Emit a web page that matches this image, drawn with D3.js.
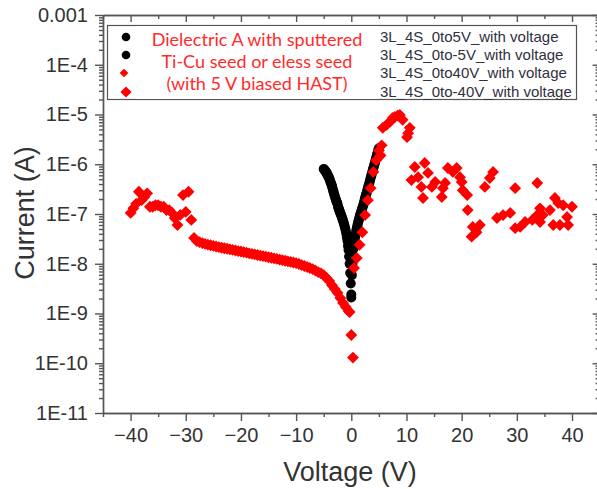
<!DOCTYPE html>
<html>
<head>
<meta charset="utf-8">
<script src="https://cdn.jsdelivr.net/npm/d3@7"></script>
<style>
  body { margin: 0; background: #fff; }
  text { font-family: "Liberation Sans", Arial, sans-serif; }
</style>
</head>
<body>
<svg id="chart" width="597" height="489"></svg>
<script>
// --- data ---
const seriesNames = ['3L_4S_0to5V_with voltage', '3L_4S_0to-5V_with voltage',
  '3L_4S_0to40V_with voltage', '3L_4S_0to-40V_with voltage'];
const noteLines = ['Dielectric A with sputtered', 'Ti-Cu seed or eless seed', '(with 5 V biased HAST)'];

const xTicks = [-40, -30, -20, -10, 0, 10, 20, 30, 40];
const yTicks = [1e-3, 1e-4, 1e-5, 1e-6, 1e-7, 1e-8, 1e-9, 1e-10, 1e-11];

// black, 0 -> 5 V
const pos5V = [0, 0.1, 0.2, 0.3, 0.4, 0.5, 0.6, 0.7, 0.8, 0.9, 1.0, 1.1, 1.2, 1.3, 1.4, 1.5, 1.6, 1.7, 1.8, 1.9,
  2.0, 2.1, 2.2, 2.3, 2.4, 2.5, 2.6, 2.7, 2.8, 2.9, 3.0, 3.1, 3.2, 3.3, 3.4, 3.5, 3.6, 3.7, 3.8, 3.9,
  4.0, 4.1, 4.2, 4.3, 4.4, 4.5, 4.6, 4.7, 4.8, 4.9, 5.0];
const pos5I = [2.4e-9, 5.9e-9, 1.0e-8, 1.5e-8, 2.0e-8, 2.6e-8, 3.0e-8, 3.5e-8, 4.0e-8, 4.6e-8, 5.2e-8, 5.8e-8, 6.5e-8, 7.2e-8, 7.9e-8, 8.7e-8, 9.5e-8, 1.03e-7, 1.12e-7, 1.22e-7,
  1.32e-7, 1.43e-7, 1.55e-7, 1.7e-7, 1.9e-7, 2.1e-7, 2.3e-7, 2.5e-7, 2.7e-7, 3.0e-7, 3.3e-7, 3.6e-7, 3.9e-7, 4.3e-7, 4.8e-7, 5.3e-7, 5.8e-7, 6.3e-7, 7.0e-7, 7.7e-7,
  8.4e-7, 9.2e-7, 1.0e-6, 1.1e-6, 1.22e-6, 1.34e-6, 1.47e-6, 1.6e-6, 1.75e-6, 1.92e-6, 2.1e-6];

// black, 0 -> -5 V
const neg5V = [0, -0.1, -0.2, -0.3, -0.4, -0.5, -0.6, -0.7, -0.8, -0.9, -1.0, -1.1, -1.2, -1.3, -1.4, -1.5, -1.6, -1.7, -1.8, -1.9,
  -2.0, -2.1, -2.2, -2.3, -2.4, -2.5, -2.6, -2.7, -2.8, -2.9, -3.0, -3.1, -3.2, -3.3, -3.4, -3.5, -3.6, -3.7, -3.8, -3.9,
  -4.0, -4.1, -4.2, -4.3, -4.4, -4.5, -4.6, -4.7, -4.8, -4.9, -5.0];
const neg5I = [2.1e-9, 4.0e-9, 6.5e-9, 1.0e-8, 1.4e-8, 1.9e-8, 2.3e-8, 2.9e-8, 3.4e-8, 4.0e-8, 4.6e-8, 5.1e-8, 5.6e-8, 6.2e-8, 6.8e-8, 7.3e-8, 7.9e-8, 8.5e-8, 9.2e-8, 9.9e-8,
  1.05e-7, 1.13e-7, 1.21e-7, 1.3e-7, 1.4e-7, 1.6e-7, 1.7e-7, 1.8e-7, 1.95e-7, 2.1e-7, 2.3e-7, 2.5e-7, 2.75e-7, 3.0e-7, 3.3e-7, 3.65e-7, 3.9e-7, 4.2e-7, 4.5e-7, 4.8e-7,
  5.3e-7, 5.5e-7, 5.8e-7, 6.1e-7, 6.4e-7, 6.7e-7, 7.0e-7, 7.3e-7, 7.6e-7, 7.8e-7, 8.0e-7];

// red, 0 -> 40 V
const pos40V = [0, 0.3, 0.5, 1, 1.5, 2, 2.5, 3, 3.5, 4, 4.5, 5, 5.3, 5.5, 5.7, 6.4, 7.0, 7.5, 7.9, 8.4, 8.8,
  9.3, 10.1, 10.3, 10.6, 10.9, 11.5, 12.1, 12.7, 13.0, 13.3, 13.9, 14.6, 15.2, 16.4, 16.6, 17.0, 17.5, 18.4, 19.1, 19.7,
  20.0, 20.2, 21.0, 21.1, 21.8, 22.0, 22.7, 23.3, 24.2, 25.1, 25.7, 26.4, 27.5, 28.8, 29.7, 29.7, 30.6, 31.5, 32.8, 33.7, 33.7,
  34.2, 34.2, 34.7, 36.0, 36.6, 36.9, 37.5, 37.8, 38.4, 39.1, 39.3, 40.0];
const pos40I = [3.7e-10, 1.3e-10, 8.2e-9, 1.3e-8, 2.4e-8, 4.3e-8, 9.5e-8, 1.9e-7, 3.3e-7, 7.0e-7, 1.2e-6, 1.9e-6, 1.5e-6, 2.4e-6, 5.4e-6, 6.2e-6, 7.1e-6, 8.5e-6, 8.9e-6, 9.5e-6, 9.8e-6,
  7.8e-6, 3.5e-6, 4.2e-6, 5.4e-6, 4.8e-7, 8.8e-7, 5.5e-7, 3.5e-7, 2.1e-7, 1.06e-6, 6.7e-7, 3.5e-7, 4.4e-7, 2.2e-7, 3.3e-7, 4.2e-7, 8.4e-7, 7.0e-7, 8.4e-7, 5.5e-7,
  4.4e-7, 3.0e-7, 2.4e-7, 1.2e-7, 3.5e-8, 5.5e-8, 4.3e-8, 6.0e-8, 3.5e-7, 5.3e-7, 7.0e-7, 8.3e-8, 9.5e-8, 1.05e-7, 3.3e-7, 5.2e-8, 5.5e-8, 6.9e-8, 7.6e-8, 4.2e-7, 9.5e-8,
  1.3e-7, 6.9e-8, 9.5e-8, 1.2e-7, 6.0e-8, 2.1e-7, 1.66e-7, 6.0e-8, 1.5e-7, 8.7e-8, 6.0e-8, 1.4e-7];

// red, 0 -> -40 V
const neg40V = [-0.3, -0.5, -1, -1.5, -2, -2.5, -3, -3.5, -4, -4.5, -5, -5.5, -6, -6.5, -7, -7.5, -8, -8.5, -9, -9.5,
  -10, -10.5, -11, -11.5, -12, -12.5, -13, -13.5, -14, -14.5, -15, -15.5, -16, -16.5, -17, -17.5, -18, -18.5, -19, -19.5,
  -20, -20.5, -21, -21.5, -22, -22.5, -23, -23.5, -24, -24.5, -25, -25.5, -26, -26.5, -27, -27.5, -28, -28.5, -29, -29.5,
  -30, -30.5, -31, -31.5, -32, -32.5, -33, -33.5, -34, -34.5, -35, -35.5, -36, -36.5, -37, -37.5, -38, -38.5, -39, -39.5, -40];
const neg40I = [1.07e-9, 1.12e-9, 1.35e-9, 1.63e-9, 2.05e-9, 2.6e-9, 3.1e-9, 3.7e-9, 4.5e-9, 5.2e-9, 5.9e-9, 6.4e-9, 6.8e-9, 7.3e-9, 7.8e-9, 8.2e-9, 8.6e-9, 9.0e-9, 9.4e-9, 9.9e-9,
  1.03e-8, 1.06e-8, 1.09e-8, 1.12e-8, 1.15e-8, 1.18e-8, 1.21e-8, 1.25e-8, 1.28e-8, 1.32e-8, 1.35e-8, 1.39e-8, 1.42e-8, 1.46e-8, 1.5e-8, 1.54e-8, 1.58e-8, 1.62e-8, 1.67e-8, 1.71e-8,
  1.76e-8, 1.8e-8, 1.85e-8, 1.9e-8, 1.95e-8, 2.0e-8, 2.05e-8, 2.1e-8, 2.16e-8, 2.22e-8, 2.28e-8, 2.35e-8, 2.42e-8, 2.5e-8, 2.6e-8, 2.72e-8, 2.86e-8, 3.3e-8, 7.6e-8, 2.8e-7,
  1.1e-7, 2.4e-7, 9.6e-8, 6.0e-8, 8.3e-8, 1.05e-7, 1.2e-7, 1.2e-7, 1.4e-7, 1.4e-7, 1.5e-7, 1.5e-7, 1.4e-7, 1.4e-7, 2.6e-7, 2.2e-7, 1.9e-7, 2.8e-7, 1.6e-7, 1.3e-7, 1.05e-7];

// --- layout ---
const svg = d3.select('#chart');
const x = d3.scaleLinear().domain([-45, 45]).range([103, 599.6]);
const y = d3.scaleLog().domain([1e-11, 1e-3]).range([413, 15]);
const axisColor = '#555';

const minorX = d3.range(-45, 46, 10);
const minorY = [];
for (let e = -11; e < -3; e++) for (let k = 2; k <= 9; k++) minorY.push(k * Math.pow(10, e));
const fmtY = d => d === 1e-3 ? '0.001' : '1E' + Math.round(Math.log10(d));

function styleAxis(g) {
  g.selectAll('path, line').attr('stroke', axisColor).attr('stroke-width', 1.4);
  g.selectAll('text').attr('fill', '#333').style('font-size', '20px')
    .style('font-family', '"Liberation Sans", Arial, sans-serif');
}

// bottom
svg.append('g').attr('transform', `translate(0,${y(1e-11)})`)
  .call(d3.axisBottom(x).tickValues(xTicks).tickSize(8).tickSizeOuter(0).tickPadding(7).tickFormat(d3.format('d')))
  .call(styleAxis);
svg.append('g').attr('transform', `translate(0,${y(1e-11)})`)
  .call(d3.axisBottom(x).tickValues(minorX).tickSize(4).tickSizeOuter(0).tickFormat(''))
  .call(styleAxis);
// top (ticks inward)
svg.append('g').attr('transform', `translate(0,${y(1e-3)})`)
  .call(d3.axisBottom(x).tickValues(xTicks).tickSize(7).tickSizeOuter(0).tickFormat(''))
  .call(styleAxis);
svg.append('g').attr('transform', `translate(0,${y(1e-3)})`)
  .call(d3.axisBottom(x).tickValues(minorX).tickSize(4).tickSizeOuter(0).tickFormat(''))
  .call(styleAxis);
// left
svg.append('g').attr('transform', `translate(${x(-45)},0)`)
  .call(d3.axisLeft(y).tickValues(yTicks).tickSize(8).tickSizeOuter(0).tickPadding(7).tickFormat(fmtY))
  .call(styleAxis);
svg.append('g').attr('transform', `translate(${x(-45)},0)`)
  .call(d3.axisLeft(y).tickValues(minorY).tickSize(4).tickSizeOuter(0).tickFormat(''))
  .call(styleAxis);
// right (ticks inward)
svg.append('g').attr('transform', `translate(${x(45)},0)`)
  .call(d3.axisLeft(y).tickValues(yTicks).tickSize(7).tickSizeOuter(0).tickFormat(''))
  .call(styleAxis);
svg.append('g').attr('transform', `translate(${x(45)},0)`)
  .call(d3.axisLeft(y).tickValues(minorY).tickSize(4).tickSizeOuter(0).tickFormat(''))
  .call(styleAxis);

// axis titles
svg.append('text').attr('x', 350).attr('y', 481).attr('text-anchor', 'middle')
  .attr('fill', '#333').style('font-size', '27px').text('Voltage (V)');
svg.append('text').attr('transform', 'translate(34,213) rotate(-90)').attr('text-anchor', 'middle')
  .attr('fill', '#333').style('font-size', '27px').text('Current (A)');

// --- marks ---
const diamond = d3.symbol().type(d3.symbolSquare).size(70)();
const zip = (vs, is) => vs.map((v, i) => [v, is[i]]);

function circles(data) {
  svg.append('g').selectAll('circle').data(data).join('circle')
    .attr('cx', d => x(d[0])).attr('cy', d => y(d[1])).attr('r', 5).attr('fill', '#000');
}
function diamonds(data) {
  svg.append('g').selectAll('path').data(data).join('path')
    .attr('d', diamond).attr('fill', '#ff0000')
    .attr('transform', d => `translate(${x(d[0])},${y(d[1])}) rotate(45)`);
}
circles(zip(neg5V, neg5I));
circles(zip(pos5V, pos5I));
diamonds(zip(neg40V, neg40I));
diamonds(zip(pos40V, pos40I));

// --- legend ---
const lg = svg.append('g');
lg.append('rect').attr('x', 107.5).attr('y', 25.5).attr('width', 469).attr('height', 74)
  .attr('fill', '#fff').attr('stroke', '#555').attr('stroke-width', 1.2);
const rowY = [37, 55, 73, 92];
seriesNames.forEach((name, i) => {
  if (i < 2) {
    lg.append('circle').attr('cx', 126).attr('cy', rowY[i]).attr('r', 4.3).attr('fill', '#000');
  } else {
    lg.append('path').attr('d', d3.symbol().type(d3.symbolSquare).size(i === 2 ? 38 : 62)())
      .attr('transform', `translate(${i === 2 ? 124 : 126},${rowY[i]}) rotate(45)`).attr('fill', '#ff0000');
  }
  lg.append('text').attr('x', 380).attr('y', rowY[i] + 5).attr('fill', '#303040')
    .style('font-size', '15px').text(name);
});
// white note box with red caption
lg.append('rect').attr('x', 135).attr('y', 26).attr('width', 243).attr('height', 73).attr('fill', '#fff');
noteLines.forEach((line, i) => {
  lg.append('text').attr('x', 257).attr('y', 46 + i * 22).attr('text-anchor', 'middle')
    .attr('fill', '#ff2b2b').style('font-family', 'Lato, "Open Sans", sans-serif').style('font-size', '18px')
    .text(line);
});
</script>
</body>
</html>
